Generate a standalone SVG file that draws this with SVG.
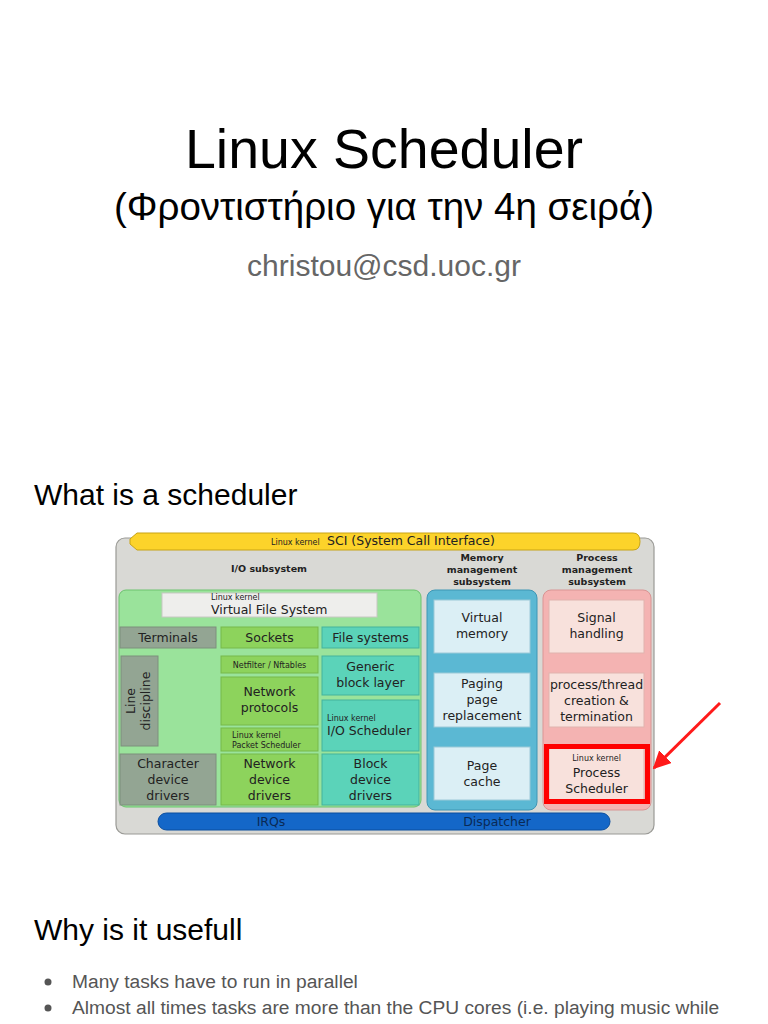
<svg xmlns="http://www.w3.org/2000/svg" width="768" height="1024" viewBox="0 0 768 1024">
<style>
.t{font-family:"Liberation Sans",Arial,sans-serif}
.d{font-family:"DejaVu Sans",sans-serif;font-size:12.5px;fill:#222;text-anchor:middle}
.l{text-anchor:start}
.s{font-family:"DejaVu Sans",sans-serif;font-size:8px;fill:#222}
.m{text-anchor:middle}
.b{font-family:"DejaVu Sans",sans-serif;font-size:9.5px;font-weight:bold;fill:#222;text-anchor:middle}
.gray{fill:#93a593;stroke:#7d8f7d;stroke-width:1}
.lg{fill:#8dd35c;stroke:#76b94a;stroke-width:1}
.teal{fill:#5bd3b9;stroke:#44b39c;stroke-width:1}
.lb{fill:#dbeff5;stroke:#9cc9d8;stroke-width:1}
.pk{fill:#f8e1dc;stroke:#e0b3ae;stroke-width:1}
</style>
<defs>
<marker id="ah" viewBox="0 0 10 10" refX="9" refY="5" markerWidth="6" markerHeight="6" orient="auto" markerUnits="strokeWidth">
<path d="M0,0 L10,5 L0,10 Z" fill="#ff1a1a"/>
</marker>
</defs>
<rect width="768" height="1024" fill="#ffffff"/>

<g id="title">
<text class="t" x="384" y="168" font-size="55.5" text-anchor="middle" fill="#000">Linux Scheduler</text>
<text class="t" x="384" y="220" font-size="38.5" text-anchor="middle" fill="#000">(Φροντιστήριο για την 4η σειρά)</text>
<text class="t" x="384" y="276" font-size="30" text-anchor="middle" fill="#666">christou@csd.uoc.gr</text>
</g>

<g id="heading1"><text class="t" x="34" y="505" font-size="30" fill="#000">What is a scheduler</text></g>

<g id="kernel">
<rect x="116" y="538" width="538" height="296" rx="9" fill="#d9d9d5" stroke="#9a9a96" stroke-width="1.2"/>
<path d="M137,533 L633,533 Q640,533 640,541.5 Q640,550 633,550 L137,550 L130,544 L130,539 Z" fill="#fcd32a" stroke="#c8a315" stroke-width="1"/>
<text class="s" x="271" y="545">Linux kernel</text>
<text class="d l" x="327" y="545">SCI (System Call Interface)</text>
<text class="b" x="269" y="572">I/O subsystem</text>
<text class="b" x="482" y="561">Memory</text>
<text class="b" x="482" y="573">management</text>
<text class="b" x="482" y="585">subsystem</text>
<text class="b" x="597" y="561">Process</text>
<text class="b" x="597" y="573">management</text>
<text class="b" x="597" y="585">subsystem</text>
</g>

<g id="io">
<rect x="119" y="590" width="302" height="217" rx="7" fill="#9ae39b" stroke="#6cc36e" stroke-width="1"/>
<rect x="162" y="593" width="215" height="24" fill="#eeeeec" stroke="#c8c8c4" stroke-width="1"/>
<text class="s" x="211" y="600">Linux kernel</text>
<text class="d l" x="211" y="614">Virtual File System</text>
</g>
<g id="terminals"><rect class="gray" x="120" y="627" width="96" height="21"/><text class="d" x="168" y="642">Terminals</text></g>
<g id="sockets"><rect class="lg" x="221" y="627" width="97" height="21"/><text class="d" x="269.5" y="642">Sockets</text></g>
<g id="filesystems"><rect class="teal" x="322" y="627" width="97" height="21"/><text class="d" x="370.5" y="642">File systems</text></g>
<g id="linedisc"><rect class="gray" x="121" y="656" width="37" height="90"/>
<g transform="translate(140,701) rotate(-90)"><text class="d" x="0" y="-5">Line</text><text class="d" x="0" y="10">discipline</text></g></g>
<g id="netfilter"><rect class="lg" x="221" y="656" width="97" height="17"/><text class="s m" x="269.5" y="667.5">Netfilter / Nftables</text></g>
<g id="netproto"><rect class="lg" x="221" y="677" width="97" height="48"/><text class="d" x="269.5" y="696">Network</text><text class="d" x="269.5" y="712">protocols</text></g>
<g id="pktsched"><rect class="lg" x="221" y="728" width="97" height="23"/><text class="s" x="232" y="738">Linux kernel</text><text class="s" x="232" y="748">Packet Scheduler</text></g>
<g id="genblock"><rect class="teal" x="322" y="656" width="97" height="39"/><text class="d" x="370.5" y="671">Generic</text><text class="d" x="370.5" y="687">block layer</text></g>
<g id="iosched"><rect class="teal" x="322" y="700" width="97" height="51"/><text class="s" x="327" y="721">Linux kernel</text><text class="d l" x="327" y="735">I/O Scheduler</text></g>
<g id="chardrv"><rect class="gray" x="120" y="754" width="96" height="51"/><text class="d" x="168" y="768">Character</text><text class="d" x="168" y="784">device</text><text class="d" x="168" y="800">drivers</text></g>
<g id="netdrv"><rect class="lg" x="221" y="754" width="97" height="51"/><text class="d" x="269.5" y="768">Network</text><text class="d" x="269.5" y="784">device</text><text class="d" x="269.5" y="800">drivers</text></g>
<g id="blkdrv"><rect class="teal" x="322" y="754" width="97" height="51"/><text class="d" x="370.5" y="768">Block</text><text class="d" x="370.5" y="784">device</text><text class="d" x="370.5" y="800">drivers</text></g>

<g id="mem">
<rect x="427" y="590" width="110" height="220" rx="8" fill="#5bb8d3" stroke="#3f96b4" stroke-width="1"/>
</g>
<g id="vmem"><rect class="lb" x="434" y="600" width="96" height="53"/><text class="d" x="482" y="622">Virtual</text><text class="d" x="482" y="638">memory</text></g>
<g id="paging"><rect class="lb" x="434" y="673" width="96" height="54"/><text class="d" x="482" y="688">Paging</text><text class="d" x="482" y="704">page</text><text class="d" x="482" y="720">replacement</text></g>
<g id="pagecache"><rect class="lb" x="434" y="747" width="96" height="53"/><text class="d" x="482" y="770">Page</text><text class="d" x="482" y="786">cache</text></g>

<g id="proc">
<rect x="543" y="590" width="108" height="220" rx="8" fill="#f4b3b2" stroke="#d99594" stroke-width="1"/>
</g>
<g id="signal"><rect class="pk" x="549" y="600" width="95" height="53"/><text class="d" x="596.5" y="622">Signal</text><text class="d" x="596.5" y="638">handling</text></g>
<g id="ptc"><rect class="pk" x="549" y="673" width="95" height="54"/><text class="d" x="596.5" y="689">process/thread</text><text class="d" x="596.5" y="705">creation &amp;</text><text class="d" x="596.5" y="721">termination</text></g>
<g id="psched"><rect class="pk" x="549" y="747" width="95" height="53"/><rect x="546.5" y="746.5" width="101" height="55" fill="none" stroke="#ff0000" stroke-width="5"/><text class="s m" x="596.5" y="761">Linux kernel</text><text class="d" x="596.5" y="777">Process</text><text class="d" x="596.5" y="793">Scheduler</text></g>

<g id="irq">
<rect x="158" y="813" width="452" height="17" rx="8.5" fill="#1467c8" stroke="#0b4e9e" stroke-width="1"/>
<text class="d" x="271" y="826" style="fill:#0a2a55">IRQs</text>
<text class="d" x="497" y="826" style="fill:#0a2a55">Dispatcher</text>
</g>

<g id="connectors">
<line x1="720" y1="703" x2="654" y2="768" stroke="#ff1a1a" stroke-width="3" marker-end="url(#ah)"/>
</g>

<g id="heading2"><text class="t" x="34" y="940" font-size="30" fill="#000">Why is it usefull</text></g>
<g id="bullets">
<circle cx="48" cy="982" r="3.5" fill="#555"/>
<text class="t" x="72" y="988" font-size="19.2" fill="#555">Many tasks have to run in parallel</text>
<circle cx="48" cy="1008" r="3.5" fill="#555"/>
<text class="t" x="72" y="1014" font-size="19.2" fill="#555">Almost all times tasks are more than the CPU cores (i.e. playing music while</text>
</g>
</svg>
